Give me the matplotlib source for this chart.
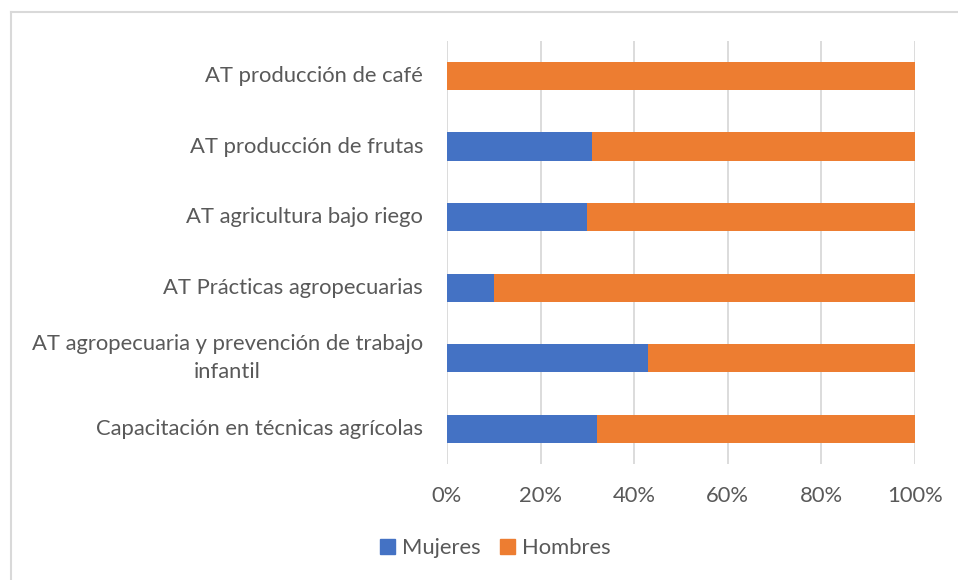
import matplotlib.pyplot as plt
import matplotlib.patches as mpatches
from matplotlib.lines import Line2D

categorias = ["AT producción de café",
              "AT producción de frutas",
              "AT agricultura bajo riego",
              "AT Prácticas agropecuarias",
              "AT agropecuaria y prevención de trabajo\ninfantil",
              "Capacitación en técnicas agrícolas"]
mujeres = [0, 31, 30, 10, 43, 32]
hombres = [100, 69, 70, 90, 57, 68]
ticks = [0, 20, 40, 60, 80, 100]
tick_labels = ["0%", "20%", "40%", "60%", "80%", "100%"]

plt.rcParams['font.family'] = ['Lato', 'DejaVu Sans']
fs = 15.8

fig = plt.figure(figsize=(9.58, 5.8), dpi=100)
ax = fig.add_axes([447/958, 1-464/580, 468/958, (464-40.7)/580])

y = list(range(len(categorias)))[::-1]
ax.barh(y, mujeres, height=0.4, color='#4472C4', label='Mujeres', zorder=3)
ax.barh(y, hombres, left=mujeres, height=0.4, color='#ED7D31', label='Hombres', zorder=3)

ax.set_xlim(0, 100)
ax.set_ylim(-0.5, len(categorias)-0.5)
ax.set_xticks(ticks)
ax.set_xticklabels(tick_labels)
ax.set_yticks(y)
ax.set_yticklabels([])
for yi, lab in zip(y, categorias):
    ax.text(-5.1, yi, lab, ha='right', va='center', multialignment='center',
            fontsize=fs, color='#595959', transform=ax.transData, linespacing=1.5)

ax.grid(axis='x', color='#D9D9D9', linewidth=1.3, zorder=0)
for s in ax.spines.values():
    s.set_visible(False)
ax.tick_params(axis='both', length=0, labelsize=fs, labelcolor='#595959')
ax.tick_params(axis='x', pad=16)

handles = [mpatches.Patch(color='#4472C4', label='Mujeres'),
           mpatches.Patch(color='#ED7D31', label='Hombres')]
fig.legend(handles=handles, loc='center', bbox_to_anchor=(495/958, 1-548/580), ncol=2,
           frameon=False, fontsize=fs, labelcolor='#595959',
           handlelength=0.7, handleheight=0.7, handletextpad=0.3, columnspacing=0.9)

# chart border (only left and top visible in the crop)
fig.add_artist(Line2D([10.5/958, 10.5/958], [0, 1-11.5/580], color='#D9D9D9', linewidth=1.5))
fig.add_artist(Line2D([10.5/958, 1], [1-11.5/580, 1-11.5/580], color='#D9D9D9', linewidth=1.5))

fig.savefig('out.png', dpi=100)
